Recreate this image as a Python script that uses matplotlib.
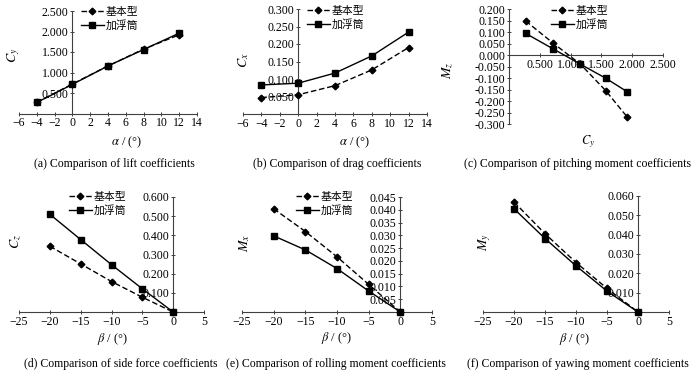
import matplotlib
matplotlib.use("Agg")
import matplotlib.pyplot as plt
from matplotlib.ticker import MultipleLocator, FuncFormatter

# Data
alpha = [-4, 0, 4, 8, 12]
cy_base = [0.27, 0.72, 1.16, 1.57, 1.92]
cy_float = [0.27, 0.71, 1.16, 1.56, 1.96]
cx_base = [0.047, 0.055, 0.081, 0.126, 0.190]
cx_float = [0.083, 0.088, 0.117, 0.166, 0.234]
mz_base = [0.148, 0.051, -0.040, -0.155, -0.270]
mz_float = [0.094, 0.026, -0.040, -0.101, -0.160]

beta = [-20, -15, -10, -5, 0]
cz_base = [0.343, 0.251, 0.159, 0.077, 0.0]
cz_float = [0.510, 0.378, 0.247, 0.121, 0.0]
mx_base = [0.0404, 0.0315, 0.0216, 0.0108, 0.0]
mx_float = [0.0298, 0.0243, 0.0170, 0.0082, 0.0]
my_base = [0.0569, 0.0405, 0.0256, 0.0122, 0.0]
my_float = [0.0534, 0.0380, 0.0239, 0.0108, 0.0]

series_names = ["基本型", "加浮筒"]
captions = [
    "(a) Comparison of lift coefficients",
    "(b) Comparison of drag coefficients",
    "(c) Comparison of pitching moment coefficients",
    "(d) Comparison of side force coefficients",
    "(e) Comparison of rolling moment coefficients",
    "(f) Comparison of yawing moment coefficients",
]

plt.rcParams["font.family"] = ["Liberation Serif", "Noto Sans CJK SC"]
plt.rcParams["mathtext.fontset"] = "stix"

W, H = 700, 371
fig = plt.figure(figsize=(W / 100, H / 100), dpi=100)
TICK_FS = 8.5
AXC = "#404040"


def px(x, y):
    return x / W, 1 - y / H


def box(x0, x1, ytop, ybot):
    return [x0 / W, 1 - ybot / H, (x1 - x0) / W, (ybot - ytop) / H]


def fmt_y(hide_zero=True):
    def f(v, pos):
        if abs(v) < 1e-9:
            return "" if hide_zero else "0.000"
        return "%.3f" % v
    return FuncFormatter(f)


def fmt_x(v, pos):
    s = "%g" % round(v, 6)
    return s.replace("-", "\u2212")


def style(ax, xlim, ylim, xstep, ystep, yspine_at0=True, hide_zero=True, xfmt=None):
    ax.set_xlim(*xlim)
    ax.set_ylim(*ylim)
    ax.patch.set_alpha(0)
    for s in ["top", "right"]:
        ax.spines[s].set_visible(False)
    if yspine_at0:
        ax.spines["left"].set_position(("data", 0))
    ax.spines["bottom"].set_position(("data", 0))
    for s in ["left", "bottom"]:
        ax.spines[s].set_color(AXC)
        ax.spines[s].set_linewidth(0.8)
    ax.xaxis.set_major_locator(MultipleLocator(xstep))
    ax.yaxis.set_major_locator(MultipleLocator(ystep))
    ax.xaxis.set_major_formatter(xfmt if xfmt is not None else FuncFormatter(fmt_x))
    ax.yaxis.set_major_formatter(fmt_y(hide_zero))
    ax.tick_params(direction="inout", length=3.5, width=0.7, color=AXC,
                   labelsize=TICK_FS, pad=1.0)


def plot_pair(ax, x, yb, yf):
    ax.plot(x, yb, color="black", lw=1.0, ls=(0, (4, 2)), marker="D", ms=3.4,
            label=series_names[0], zorder=3, clip_on=False)
    ax.plot(x, yf, color="black", lw=1.0, marker="s", ms=4.4,
            label=series_names[1], zorder=3, clip_on=False)


def add_legend(ax, x, y):
    ax.legend(loc="upper left", bbox_to_anchor=px(x, y), bbox_transform=fig.transFigure,
              frameon=False, fontsize=7.8, handlelength=2.1, handletextpad=0.2,
              labelspacing=0.25, borderpad=0, borderaxespad=0)


def ylab(x, y, s):
    fig.text(*px(x, y), s, rotation=90, ha="center", va="center", fontsize=10)


def xlab(x, y, s):
    fig.text(*px(x, y), s, ha="center", va="center", fontsize=9)


def cap(x, y, s):
    fig.text(*px(x, y), s, ha="center", va="center", fontsize=8.5)


# (a) lift
ax = fig.add_axes(box(19, 197, 11, 113.5))
style(ax, (-6, 14), (0, 2.5), 2, 0.5)
plot_pair(ax, alpha, cy_base, cy_float)
add_legend(ax, 81, 7)
ylab(14, 55, "$C_y$")
xlab(127, 142, r"$\alpha$ / (°)")
cap(114, 164, captions[0])

# (b) drag
ax = fig.add_axes(box(243, 427, 9, 114))
style(ax, (-6, 14), (0, 0.3), 2, 0.05)
plot_pair(ax, alpha, cx_base, cx_float)
add_legend(ax, 307, 6)
ylab(244, 60, "$C_x$")
xlab(355, 142, r"$\alpha$ / (°)")
cap(337, 164, captions[1])

# (c) pitching moment
ax = fig.add_axes(box(509, 663, 9, 124))
style(ax, (0, 2.5), (-0.3, 0.2), 0.5, 0.05, yspine_at0=False, hide_zero=False,
      xfmt=FuncFormatter(lambda v, p: "" if abs(v) < 1e-9 else "%.3f" % v))
plot_pair(ax, cy_base, mz_base, mz_float)
add_legend(ax, 551, 6)
ylab(448, 70, "$M_z$")
xlab(588, 142, "$C_y$")
cap(577, 164, captions[2])

# (d) side force
ax = fig.add_axes(box(19, 204, 197, 312))
style(ax, (-25, 5), (0, 0.6), 5, 0.1)
plot_pair(ax, beta, cz_base, cz_float)
add_legend(ax, 69, 192)
ylab(16, 242, "$C_z$")
xlab(113, 339, r"$\beta$ / (°)")
cap(121, 364, captions[3])

# (e) rolling moment
ax = fig.add_axes(box(242, 432, 197, 312))
style(ax, (-25, 5), (0, 0.045), 5, 0.005)
plot_pair(ax, beta, mx_base, mx_float)
add_legend(ax, 296, 192)
ylab(245, 243, "$M_x$")
xlab(337, 338, r"$\beta$ / (°)")
cap(336, 364, captions[4])

# (f) yawing moment
ax = fig.add_axes(box(483, 669, 196, 312))
style(ax, (-25, 5), (0, 0.06), 5, 0.01)
plot_pair(ax, beta, my_base, my_float)
ylab(485, 242, "$M_y$")
xlab(575, 339, r"$\beta$ / (°)")
cap(578, 364, captions[5])

fig.savefig("out.png", dpi=100, facecolor="white")
